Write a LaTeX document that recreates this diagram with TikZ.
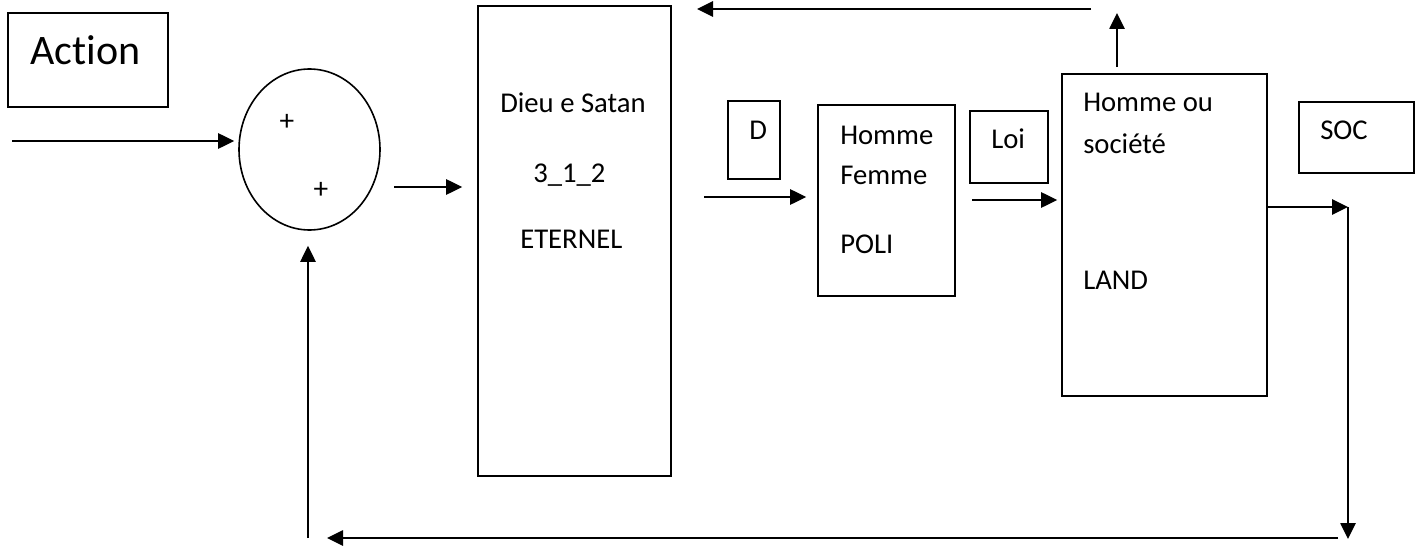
\documentclass[tikz,border=0pt]{standalone}
\usepackage{fontspec}
\setmainfont{Carlito}[Ligatures=NoCommon]
\usepackage{tikz}
\usetikzlibrary{arrows.meta,shapes.geometric}

\tikzset{
  blk/.style={draw, line width=1.2pt, inner sep=0pt},
  lbl/.style={anchor=base west, inner sep=0pt, font=\fontsize{21.5}{26}\selectfont},
  sgn/.style={inner sep=0pt, font=\fontsize{22}{26}\selectfont},
  arr/.style={line width=1.2pt, -{Triangle[length=12pt,width=11.5pt]}}
}

\begin{document}
\begin{tikzpicture}[x=0.75pt,y=0.75pt,yscale=-1]
\fill [white] (0,0) rectangle (1418,542);

%Shape: Rectangle [id:action]
\node [blk, minimum width=120pt, minimum height=70.5pt] (action) at (88,60) {};
%Shape: Ellipse [id:sum]
\node [blk, ellipse, minimum width=105.75pt, minimum height=120.75pt] (sum) at (309.5,149.5) {};
%Shape: Rectangle [id:dieu]
\node [blk, minimum width=144.75pt, minimum height=352.5pt] (dieu) at (574.5,241) {};
%Shape: Rectangle [id:dbox]
\node [blk, minimum width=39pt, minimum height=58.5pt] (dbox) at (754,140) {};
%Shape: Rectangle [id:homme]
\node [blk, minimum width=102.75pt, minimum height=143.25pt] (homme) at (886.5,200.5) {};
%Shape: Rectangle [id:loi]
\node [blk, minimum width=58.5pt, minimum height=54pt] (loi) at (1009,147) {};
%Shape: Rectangle [id:societe]
\node [blk, minimum width=153.75pt, minimum height=241.5pt] (societe) at (1164.5,235) {};
%Shape: Rectangle [id:socbox]
\node [blk, minimum width=86.25pt, minimum height=53.25pt] (socbox) at (1356.5,137.5) {};

% Text Node
\node [lbl, font=\fontsize{31.5}{36}\selectfont] (actionTxt) at (30,65) {Action};
% Text Node
\node [sgn] (plusA) at (287,122) {+};
% Text Node
\node [sgn] (plusB) at (321,190) {+};
% Text Node
\node [lbl] (dieuTxt) at (500,113) {Dieu e Satan};
% Text Node
\node [lbl] (numTxt) at (533,182) {3\_1\_2};
% Text Node
\node [lbl] (eterTxt) at (520,248) {ETERNEL};
% Text Node
\node [lbl] (dTxt) at (749,139) {D};
% Text Node
\node [lbl] (hommeTxt) at (840,144) {Homme};
% Text Node
\node [lbl] (femmeTxt) at (840,185) {Femme};
% Text Node
\node [lbl] (poliTxt) at (840,253) {POLI};
% Text Node
\node [lbl] (loiTxt) at (991,148) {Loi};
% Text Node
\node [lbl] (hoTxt) at (1083,112) {Homme ou};
% Text Node
\node [lbl] (socieTxt) at (1083,153) {société};
% Text Node
\node [lbl] (landTxt) at (1083,289) {LAND};
% Text Node
\node [lbl] (socTxt) at (1320,140) {SOC};

% free ends of the connectors
\coordinate (inA) at (12,141);
\coordinate (sumA) at (394,187);
\coordinate (dieuA) at (704,197);
\coordinate (hommeA) at (972,200);
\coordinate (outA) at (1348,207);
\coordinate (outB) at (1348,539);
\coordinate (backA) at (1338,538);
\coordinate (backB) at (327,538);
\coordinate (upA) at (308,538);
\coordinate (topA) at (1117,13);
\coordinate (retA) at (1091,9);
\coordinate (retB) at (697,9);

%Straight Lines [id:input]
\draw [arr, shorten >=3pt] (inA) -- (inA -| sum.west);
%Straight Lines [id:sum-dieu]
\draw [arr, shorten >=11.25pt] (sumA) -- (sumA -| dieu.west);
%Straight Lines [id:dieu-homme]
\draw [arr, shorten >=8.25pt] (dieuA) -- (dieuA -| homme.west);
%Straight Lines [id:homme-societe]
\draw [arr, shorten >=3pt] (hommeA) -- (hommeA -| societe.west);
%Straight Lines [id:output]
\draw [arr] (societe.east |- outA) -- (outA);
\draw [arr] (outA) -- (outB);
\draw [arr] (backA) -- (backB);
\draw [arr, shorten >=11.25pt] (upA) -- (upA |- sum.south);
%Straight Lines [id:return]
\draw [arr, shorten <=4.5pt] (societe.north -| topA) -- (topA);
\draw [arr] (retA) -- (retB);

\end{tikzpicture}
\end{document}
